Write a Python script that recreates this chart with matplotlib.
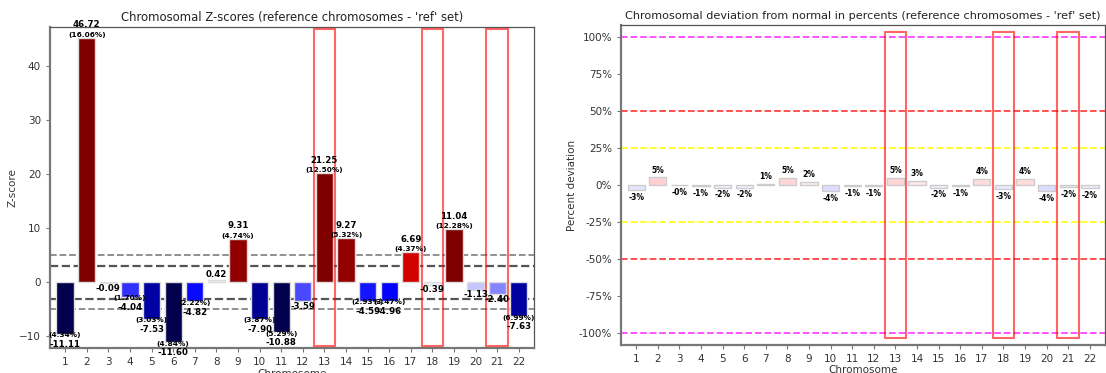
import numpy as np
import matplotlib
matplotlib.use('Agg')
import matplotlib.pyplot as plt
from matplotlib.patches import Rectangle
from matplotlib.colors import Normalize

# data
chroms = list(range(1, 23))
zscores = [-11.11, 46.72, -0.09, -4.04, -7.53, -11.60, -4.82, 0.42, 9.31, -7.90, -10.88,
           -3.59, 21.25, 9.27, -4.59, -4.96, 6.69, -0.39, 11.04, -1.13, -2.40, -7.63]
bar_heights = [-9.5, 45.3, -0.09, -2.6, -6.7, -11.0, -3.5, 0.42, 8.1, -6.7, -9.2,
               -3.4, 20.2, 8.15, -3.4, -3.4, 5.65, -0.39, 9.85, -1.3, -2.2, -6.2]
fractions = [4.34, 16.06, np.nan, 1.70, 3.03, 4.84, 2.22, np.nan, 4.74, 3.87, 5.29,
             np.nan, 12.50, 5.32, 2.93, 3.47, 4.37, np.nan, 12.28, np.nan, np.nan, 6.99]
deviation = [-3.2, 5.2, -0.3, -1.0, -1.8, -1.7, 0.9, 5.0, 2.0, -3.9, -0.9,
             -0.7, 4.8, 2.7, -1.7, -1.0, 4.0, -2.7, 3.9, -3.9, -1.6, -1.9]
highlight = [13, 18, 21]

cmap = plt.get_cmap('seismic')

fig = plt.figure(figsize=(11.06, 3.73), dpi=100)
ax1 = fig.add_axes([0.0452, 0.066, 0.4376, 0.862])
ax2 = fig.add_axes([0.5615, 0.075, 0.4376, 0.858])


def style_axes(ax):
    for side in ['left', 'bottom']:
        ax.spines[side].set_color('#777777')
        ax.spines[side].set_linewidth(1.6)
    for side in ['top', 'right']:
        ax.spines[side].set_color('#555555')
        ax.spines[side].set_linewidth(0.9)
    ax.tick_params(colors='#333333', labelsize=7.5, length=3, color='#777777')
    ax.set_xticks(chroms)
    ax.set_xlim(0.3, 22.7)
    ax.set_xlabel('Chromosome', fontsize=7.5, color='#333333', labelpad=1)


# ---- left: z-scores
norm1 = Normalize(-10, 10)
ax1.bar(chroms, bar_heights, width=0.8, color=cmap(norm1(zscores)),
        edgecolor='#dddddd', linewidth=1, zorder=2)
for y, c, lw in [(5, '#888888', 1.3), (-5, '#888888', 1.3), (3, '#555555', 1.6), (-3, '#555555', 1.6)]:
    ax1.axhline(y, color=c, ls='--', lw=lw, zorder=1)

lo, hi = min(zscores) - 0.6, max(zscores) + 0.6
ax1.set_ylim(lo, hi)
for ch, z, h, f in zip(chroms, zscores, bar_heights, fractions):
    if h >= 0:
        if not np.isnan(f):
            ax1.annotate('(%.2f%%)' % f, (ch, h), xytext=(0, 0), textcoords='offset points',
                         ha='center', va='bottom', fontsize=5.3, fontweight='bold', zorder=5)
            ax1.annotate('%.2f' % z, (ch, h), xytext=(0, 6), textcoords='offset points',
                         ha='center', va='bottom', fontsize=6.2, fontweight='bold', zorder=5)
        else:
            ax1.annotate('%.2f' % z, (ch, h), xytext=(0, 1), textcoords='offset points',
                         ha='center', va='bottom', fontsize=6.2, fontweight='bold', zorder=5)
    else:
        if not np.isnan(f):
            ax1.annotate('(%.2f%%)' % f, (ch, h), xytext=(0, 1), textcoords='offset points',
                         ha='center', va='top', fontsize=5.3, fontweight='bold', zorder=5)
            ax1.annotate('%.2f' % z, (ch, h), xytext=(0, -4.5), textcoords='offset points',
                         ha='center', va='top', fontsize=6.2, fontweight='bold', zorder=5)
        else:
            ax1.annotate('%.2f' % z, (ch, h), xytext=(0, -0.5), textcoords='offset points',
                         ha='center', va='top', fontsize=6.2, fontweight='bold', zorder=5)

for ch in highlight:
    ax1.add_patch(Rectangle((ch - 0.5, lo + 0.45), 1.0, hi - lo - 0.9, fill=False,
                            edgecolor='red', alpha=0.6, lw=1.5, zorder=4))
ax1.set_yticks([-10, 0, 10, 20, 30, 40])
ax1.set_ylabel('Z-score', fontsize=7.5, color='#333333', labelpad=1)
ax1.set_title("Chromosomal Z-scores (reference chromosomes - 'ref' set)", fontsize=8.4, color='#222222', pad=4)
style_axes(ax1)

# ---- right: percent deviation
norm2 = Normalize(-60, 60)
ax2.bar(chroms, deviation, width=0.8, color=cmap(norm2(deviation)),
        edgecolor='#cccccc', linewidth=1, zorder=2)
for y, c in [(100, '#ff44ff'), (-100, '#ff44ff'), (50, '#ff4444'), (-50, '#ff4444'),
             (25, '#ffff22'), (-25, '#ffff22')]:
    ax2.axhline(y, color=c, ls='--', lw=1.3, zorder=1)
for ch, d in zip(chroms, deviation):
    if d >= 0:
        ax2.annotate('%.0f%%' % d, (ch, d), xytext=(0, 2), textcoords='offset points',
                     ha='center', va='bottom', fontsize=5.5, fontweight='bold', zorder=5)
    else:
        ax2.annotate('%.0f%%' % d, (ch, d), xytext=(0, -2), textcoords='offset points',
                     ha='center', va='top', fontsize=5.5, fontweight='bold', zorder=5)
for ch in highlight:
    ax2.add_patch(Rectangle((ch - 0.5, -103), 1.0, 206, fill=False,
                            edgecolor='red', alpha=0.6, lw=1.5, zorder=4))
ax2.set_ylim(-108, 108)
ax2.set_yticks(np.arange(-100, 101, 25))
ax2.set_yticklabels(['%d%%' % t for t in np.arange(-100, 101, 25)])
ax2.set_ylabel('Percent deviation', fontsize=7.5, color='#333333', labelpad=1)
ax2.set_title("Chromosomal deviation from normal in percents (reference chromosomes - 'ref' set)",
              fontsize=8.1, color='#222222', pad=4)
style_axes(ax2)

fig.savefig('out.png', dpi=100)
